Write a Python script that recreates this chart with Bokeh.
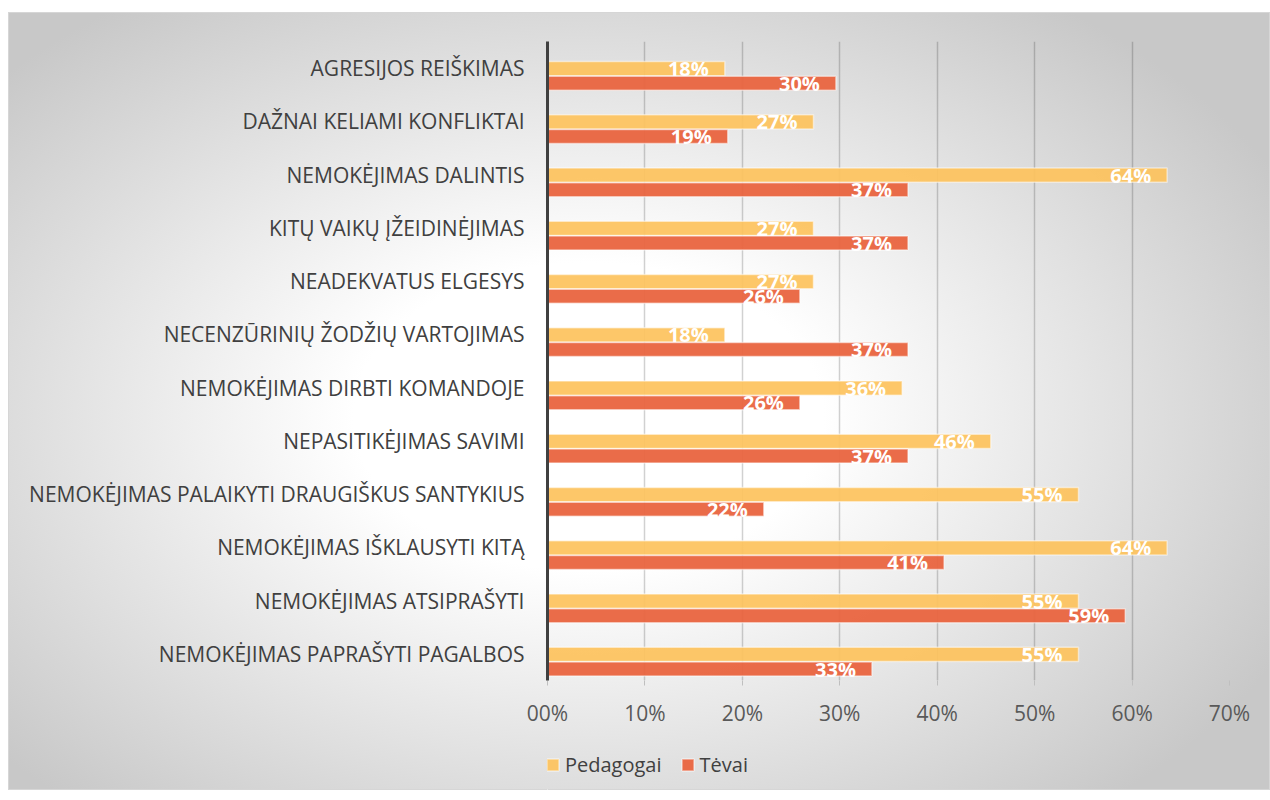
from bokeh.plotting import figure
from bokeh.layouts import column
from bokeh.models import FactorRange, Range1d, Legend, LegendItem, FixedTicker, ColumnDataSource
from bokeh.transform import dodge
from bokeh.core.properties import value
from bokeh.embed import file_html
from bokeh.resources import INLINE

categories = [
    "AGRESIJOS REIŠKIMAS",
    "DAŽNAI KELIAMI KONFLIKTAI",
    "NEMOKĖJIMAS DALINTIS",
    "KITŲ VAIKŲ ĮŽEIDINĖJIMAS",
    "NEADEKVATUS ELGESYS",
    "NECENZŪRINIŲ ŽODŽIŲ VARTOJIMAS",
    "NEMOKĖJIMAS DIRBTI KOMANDOJE",
    "NEPASITIKĖJIMAS SAVIMI",
    "NEMOKĖJIMAS PALAIKYTI DRAUGIŠKUS SANTYKIUS",
    "NEMOKĖJIMAS IŠKLAUSYTI KITĄ",
    "NEMOKĖJIMAS ATSIPRAŠYTI",
    "NEMOKĖJIMAS PAPRAŠYTI PAGALBOS",
]
pedagogai = [18.2, 27.3, 63.6, 27.3, 27.3, 18.2, 36.4, 45.5, 54.5, 63.6, 54.5, 54.5]
tevai = [29.6, 18.5, 37.0, 37.0, 25.9, 37.0, 25.9, 37.0, 22.2, 40.7, 59.3, 33.3]
pedagogai_labels = ["18%", "27%", "64%", "27%", "27%", "18%", "36%", "46%", "55%", "64%", "55%", "55%"]
tevai_labels = ["30%", "19%", "37%", "37%", "26%", "37%", "26%", "37%", "22%", "41%", "59%", "33%"]
x_tick_values = [0, 10, 20, 30, 40, 50, 60, 70]
x_tick_labels = ["00%", "10%", "20%", "30%", "40%", "50%", "60%", "70%"]
series_names = ["Pedagogai", "Tėvai"]

YELLOW = "#FDC35E"
RED = "#E9643F"
FONT = "Open Sans"
BAR_STYLE = dict(line_color="white", line_alpha=0.5, line_width=1.5)

src = ColumnDataSource(dict(cat=categories, ped=pedagogai, tev=tevai,
                            ped_lbl=pedagogai_labels, tev_lbl=tevai_labels))

p = figure(width=1262, height=718,
           y_range=FactorRange(factors=categories[::-1], range_padding=0),
           x_range=Range1d(x_tick_values[0], x_tick_values[-1]),
           output_backend="svg", toolbar_location=None,
           min_border_left=539, min_border_right=41,
           min_border_top=29, min_border_bottom=50)
p.background_fill_color = None
p.border_fill_color = None
p.outline_line_color = None

r1 = p.hbar(y=dodge("cat", -0.01, range=p.y_range), right="ped", left=0, height=0.265,
            source=src, fill_color=YELLOW, fill_alpha=0.93, **BAR_STYLE)
r2 = p.hbar(y=dodge("cat", -0.285, range=p.y_range), right="tev", left=0, height=0.265,
            source=src, fill_color=RED, fill_alpha=0.95, **BAR_STYLE)

common = dict(source=src, text_color="white", text_font=value(FONT), text_font_style="bold",
              text_font_size="20px", text_align="right", text_baseline="middle", x_offset=-16)
p.text(x="ped", y=dodge("cat", -0.01, range=p.y_range), text="ped_lbl", **common)
p.text(x="tev", y=dodge("cat", -0.285, range=p.y_range), text="tev_lbl", **common)

# x axis
p.xaxis.ticker = FixedTicker(ticks=x_tick_values)
p.xaxis.major_label_overrides = {v: l for v, l in zip(x_tick_values, x_tick_labels)}
p.xaxis.axis_line_color = None
p.xaxis.major_tick_out = 5
p.xaxis.major_tick_in = 0
p.xaxis.major_tick_line_color = "#bfbfbf"
p.xaxis.minor_tick_line_color = None
p.xaxis.major_label_standoff = 13
p.xaxis.major_label_text_font = FONT
p.xaxis.major_label_text_font_size = "21px"
p.xaxis.major_label_text_color = "#595959"

# y axis
p.yaxis.axis_line_color = "#404040"
p.yaxis.axis_line_width = 3
p.yaxis.major_tick_out = 0
p.yaxis.major_tick_in = 0
p.yaxis.minor_tick_line_color = None
p.yaxis.major_label_standoff = 23
p.yaxis.major_label_text_font = FONT
p.yaxis.major_label_text_font_size = "21px"
p.yaxis.major_label_text_color = "#404040"

p.xgrid.grid_line_color = "black"
p.xgrid.grid_line_alpha = 0.18
p.xgrid.grid_line_width = 1.5
p.ygrid.grid_line_color = None

# legend strip (separate figure below the chart, frame aligned with the chart's frame);
# its proxy bars have zero size and fall outside its ranges, so only the legend shows
leg = figure(width=1262, height=60, x_range=Range1d(1000, 1001), y_range=Range1d(1000, 1001),
             output_backend="svg", toolbar_location=None, min_border=0,
             x_axis_location=None, y_axis_location=None)
leg.background_fill_color = None
leg.border_fill_color = None
leg.outline_line_color = None
leg.xgrid.grid_line_color = None
leg.ygrid.grid_line_color = None
l1 = leg.hbar(y="ped", right="ped", left="ped", height=0, source=src,
              fill_color=YELLOW, fill_alpha=0.93, **BAR_STYLE)
l2 = leg.hbar(y="tev", right="tev", left="tev", height=0, source=src,
              fill_color=RED, fill_alpha=0.95, **BAR_STYLE)

legend = Legend(items=[LegendItem(label=series_names[0], renderers=[l1]),
                       LegendItem(label=series_names[1], renderers=[l2])],
                orientation="horizontal", location=(-2, 12),
                padding=0, margin=0, spacing=18, label_standoff=5,
                glyph_width=15, glyph_height=15,
                label_text_font=FONT, label_text_font_size="20px",
                label_text_color="#404040",
                border_line_color=None, background_fill_alpha=0)
leg.add_layout(legend, "center")

layout = column(p, leg, spacing=0)
layout.styles = {
    "margin-top": "12px",
    "margin-left": "8px",
    "background": "radial-gradient(ellipse 62% 66% at 46% 52%, #ffffff 30%, #c8c8c8 100%)",
    "box-shadow": "inset 0 0 0 1px #d6d6d6",
}

open("out.html", "w").write(file_html(layout, INLINE))
